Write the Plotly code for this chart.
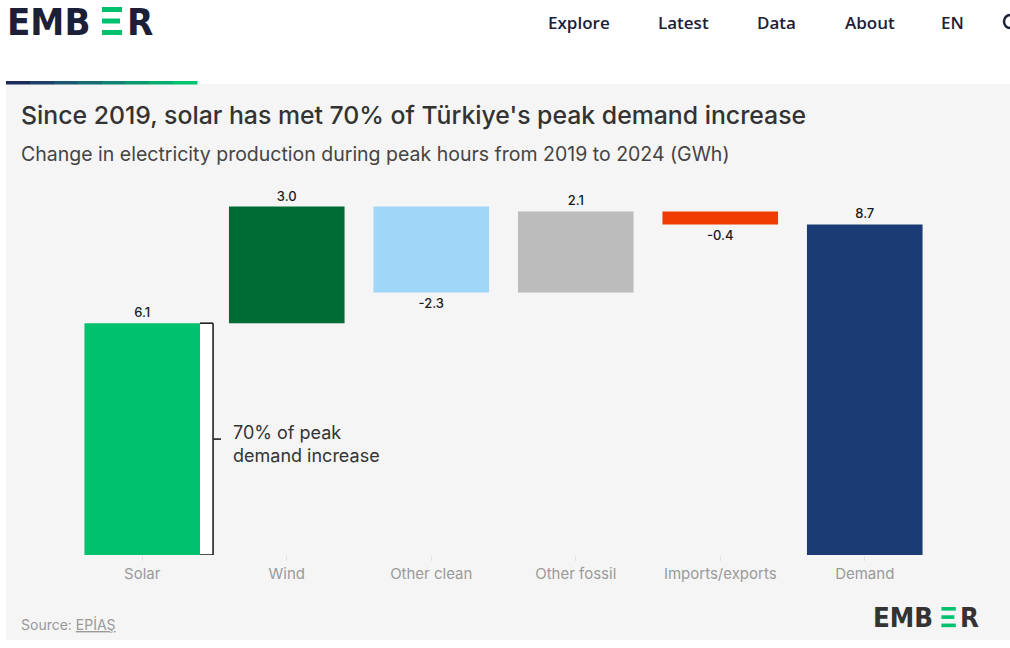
import plotly.graph_objects as go

# ---------------- data ----------------
categories = ["Solar", "Wind", "Other clean", "Other fossil", "Imports/exports", "Demand"]
changes = [6.10, 3.07, -2.26, 2.13, -0.34]          # GWh change, stepwise
demand_total = 8.70
value_labels = ["6.1", "3.0", "-2.3", "2.1", "-0.4", "8.7"]
bar_colors = ["#00c16e", "#006c35", "#a0d6f7", "#bcbcbc", "#f03c00", "#1b3b74"]
nav_items = ["Explore", "Latest", "Data", "About", "EN"]
nav_x = [579, 683, 776, 870, 952]

# waterfall bases
bases, ys = [], []
run = 0.0
for c in changes:
    bases.append(run)
    ys.append(c)
    run += c
bases.append(0.0)
ys.append(demand_total)

# ---------------- geometry helpers ----------------
W, H = 1010, 648
L, R, T, B = 70, 73, 175, 93
pw, ph = W - L - R, H - T - B
def px(x): return (x - L) / pw
def py(y): return (H - B - y) / ph

fig = go.Figure()
fig.add_trace(go.Bar(
    x=categories, y=ys, base=bases, width=0.8,
    marker=dict(color=bar_colors, line=dict(width=0)),
    text=value_labels, textposition="outside", cliponaxis=False,
    textfont=dict(family="Inter", size=13, color="#1a1a1a", weight=500),
    hoverinfo="skip",
))

shapes = []
annotations = []

# card background
shapes.append(dict(type="rect", xref="paper", yref="paper", layer="below",
                   x0=px(6), x1=px(1012), y0=py(640), y1=py(84),
                   fillcolor="#f5f5f5", line=dict(width=0)))
# gradient bar above card
grad = ["#1c2a5c", "#1d3f68", "#1b5570", "#166b72", "#0f836f", "#08996e", "#02ad6e", "#00c16e"]
n = len(grad)
for i, col in enumerate(grad):
    x0 = 6 + (197 - 6) * i / n
    x1 = 6 + (197 - 6) * (i + 1) / n + 0.5
    shapes.append(dict(type="rect", xref="paper", yref="paper", layer="below",
                       x0=px(x0), x1=px(x1), y0=py(84.5), y1=py(81),
                       fillcolor=col, line=dict(width=0)))

# logo helper
def logo(x0, ytop, s, color):
    for txt, lx in [("EMB", -1.5), ("R", 119)]:
        annotations.append(dict(xref="paper", yref="paper", x=px(x0 + lx * s),
                                y=py(ytop + 14.5 * s), text=txt, showarrow=False,
                                xanchor="left", yanchor="middle", borderpad=0,
                                font=dict(family="DejaVu Sans Condensed", size=38 * s,
                                          color=color, weight="bold")))
    for (a, b, wdt) in [(0, 5, 20), (11.5, 16.5, 18), (23, 28, 20)]:
        shapes.append(dict(type="rect", xref="paper", yref="paper",
                           x0=px(x0 + 95 * s), x1=px(x0 + (95 + wdt) * s),
                           y0=py(ytop + b * s), y1=py(ytop + a * s),
                           fillcolor="#00c16e", line=dict(width=0)))

logo(7, 7, 1.0, "#1b2038")
logo(873, 607, 0.72, "#333333")

# nav
for t, x in zip(nav_items, nav_x):
    annotations.append(dict(xref="paper", yref="paper", x=px(x), y=py(22), text=t,
                            showarrow=False, xanchor="center", yanchor="middle",
                            font=dict(family="Open Sans", size=17, color="#1b2038", weight=600)))
shapes.append(dict(type="circle", xref="paper", yref="paper",
                   x0=px(1004), x1=px(1016), y0=py(28), y1=py(15),
                   line=dict(color="#1b2038", width=2.5)))

# title & subtitle
annotations.append(dict(xref="paper", yref="paper", x=px(19), y=py(115),
                        text="Since 2019, solar has met 70% of Türkiye's peak demand increase",
                        showarrow=False, xanchor="left", yanchor="middle",
                        font=dict(family="Inter", size=24.8, color="#333333", weight=500)))
annotations.append(dict(xref="paper", yref="paper", x=px(19), y=py(154),
                        text="Change in electricity production during peak hours from 2019 to 2024 (GWh)",
                        showarrow=False, xanchor="left", yanchor="middle",
                        font=dict(family="Inter", size=19.5, color="#444444")))

# bracket for solar share
solar = changes[0]
bx0, bx1 = 0.4, 0.49
shapes.append(dict(type="rect", xref="x", yref="y", x0=bx0, x1=bx1, y0=0, y1=solar,
                   fillcolor="#ffffff", line=dict(width=0)))
for (xa, xb, ya, yb) in [(bx0, bx1, solar, solar), (bx1, bx1, 0, solar), (bx0, bx1, 0, 0)]:
    shapes.append(dict(type="line", xref="x", yref="y", x0=xa, x1=xb, y0=ya, y1=yb,
                       line=dict(color="#222", width=1.6)))
shapes.append(dict(type="line", xref="x", yref="y", x0=bx1, x1=bx1 + 0.055,
                   y0=solar / 2, y1=solar / 2, line=dict(color="#222", width=1.6)))
annotations.append(dict(xref="x", yref="y", x=0.615, y=2.92,
                        text="70% of peak<br>demand increase", showarrow=False,
                        xanchor="left", yanchor="middle", align="left",
                        font=dict(family="Inter", size=18, color="#333333")))

# source
annotations.append(dict(xref="paper", yref="paper", x=px(19), y=py(624),
                        text="Source: <u>EPİAŞ</u>", showarrow=False,
                        xanchor="left", yanchor="middle",
                        font=dict(family="Inter", size=14, color="#999999")))

fig.update_layout(
    width=W, height=H, margin=dict(l=L, r=R, t=T, b=B),
    paper_bgcolor="#ffffff", plot_bgcolor="rgba(0,0,0,0)",
    showlegend=False, shapes=shapes, annotations=annotations,
    xaxis=dict(showgrid=False, zeroline=False, showline=False, ticks="outside",
               ticklen=5, tickcolor="#e3e3e3", tickwidth=1,
               tickfont=dict(family="Inter", size=15, color="#9a9a9a"),
               fixedrange=True),
    yaxis=dict(visible=False, range=[0, 10], fixedrange=True),
)

fig.write_html("out.html", config={"displayModeBar": False})
